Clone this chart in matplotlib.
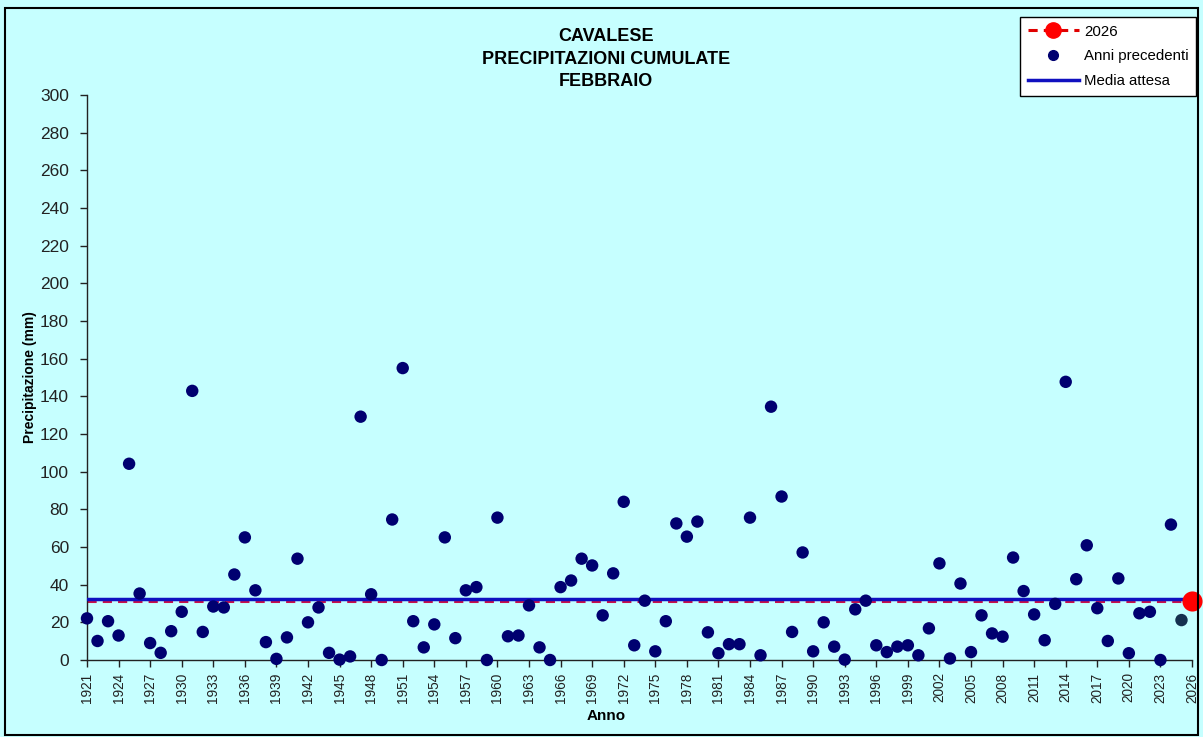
import matplotlib
matplotlib.use("Agg")
import matplotlib.pyplot as plt
from matplotlib.patches import Rectangle
from matplotlib.lines import Line2D

plt.rcParams['font.family'] = ['Liberation Sans', 'DejaVu Sans']

years = list(range(1921, 2026))
precip = [
    22.1, 10.1, 20.6, 13.0, 104.2, 35.3, 9.0, 3.8, 15.3, 25.6,
    142.9, 14.9, 28.4, 27.9, 45.4, 65.1, 37.0, 9.5, 0.6, 12.0,
    53.8, 20.0, 27.9, 3.8, 0.2, 1.9, 129.2, 34.9, 0.0, 74.6,
    155.0, 20.6, 6.7, 18.9, 65.1, 11.6, 37.0, 38.7, 0.0, 75.6,
    12.6, 13.0, 29.0, 6.7, 0.0, 38.7, 42.2, 53.8, 50.2, 23.7,
    46.0, 84.0, 7.8, 31.5, 4.6, 20.6, 72.5, 65.5, 73.5, 14.7,
    3.6, 8.4, 8.4, 75.6, 2.5, 134.5, 86.8, 14.9, 57.1, 4.6,
    20.0, 7.1, 0.2, 26.9, 31.5, 7.8, 4.2, 7.1, 7.8, 2.5,
    16.8, 51.3, 0.8, 40.6, 4.2, 23.7, 14.1, 12.4, 54.4, 36.6,
    24.2, 10.5, 29.8, 147.7, 42.9, 60.9, 27.5, 10.1, 43.3, 3.6,
    24.8, 25.6, 0.0, 71.9, 21.2,
]
current_year = 2026
current_value = 31.3
media_attesa = 32.4

x_min, x_max = 1921, 2026
tick_years = list(range(1921, 2027, 3))
y_ticks = list(range(0, 301, 20))

bg = '#C6FFFF'
navy = '#000070'

fig = plt.figure(figsize=(12.03, 7.37), dpi=100)
fig.patch.set_facecolor(bg)
fig.patches.append(Rectangle((5/1203, 2/737), 1193/1203, 727/737, transform=fig.transFigure,
                             fill=False, edgecolor='black', linewidth=1.5))

ax = fig.add_axes([87/1203, 1 - 660/737, (1192 - 87)/1203, (660 - 95)/737])
ax.set_facecolor(bg)
ax.set_xlim(x_min, x_max)
ax.set_ylim(0, 300)

ax.axhline(current_value, color='#C8104A', linestyle=(0, (3, 2)), linewidth=2.2, zorder=2)
ax.axhline(media_attesa, color='#1010C0', linewidth=2.5, zorder=3)

colors = [navy] * len(years)
colors[-1] = '#14304F'
ax.scatter(years, precip, s=80, c=colors, zorder=4, clip_on=False, linewidths=0)
ax.scatter([current_year], [current_value], s=210, c='#FF0000', zorder=5, clip_on=False,
           linewidths=0)

for s in ['top', 'right']:
    ax.spines[s].set_visible(False)
for s in ['left', 'bottom']:
    ax.spines[s].set_color('#222222')
    ax.spines[s].set_linewidth(1.0)

ax.set_yticks(y_ticks)
ax.set_yticklabels([str(v) for v in y_ticks], fontsize=12.5, color='#222222')
ax.set_xticks(tick_years)
ax.set_xticklabels([str(v) for v in tick_years], rotation=90, fontsize=9.8, color='#222222')
ax.tick_params(axis='both', direction='out', length=5, width=1, color='#222222')
ax.tick_params(axis='y', pad=8)
ax.tick_params(axis='x', pad=4)

ax.set_ylabel('Precipitazione (mm)', fontsize=10, fontweight='bold', labelpad=2)
fig.text(606/1203, 1 - 716/737, 'Anno', ha='center', va='center', fontsize=11, fontweight='bold')

fig.text(606/1203, 1 - 59/737, 'CAVALESE\nPRECIPITAZIONI CUMULATE\nFEBBRAIO', ha='center',
         va='center', fontsize=13, fontweight='bold', linespacing=1.45)

handles = [
    Line2D([], [], color='#E00000', linestyle=(0, (3, 2)), linewidth=2.2, marker='o',
           markersize=11, markerfacecolor='#FF0000', markeredgecolor='#FF0000'),
    Line2D([], [], linestyle='none', marker='o', markersize=7, color=navy),
    Line2D([], [], color='#1010C0', linewidth=2.5),
]
leg = fig.legend(handles, ['2026', 'Anni precedenti', 'Media attesa'],
                 loc='upper right', bbox_to_anchor=(1196/1203, 1 - 17/737),
                 fontsize=10.8, frameon=True, fancybox=False, edgecolor='black',
                 facecolor='white', framealpha=1, handlelength=3.4, handletextpad=0.35,
                 borderpad=0.5, labelspacing=0.72, borderaxespad=0)
leg.get_frame().set_linewidth(1.0)

fig.savefig('out.png', dpi=100, facecolor=bg)
